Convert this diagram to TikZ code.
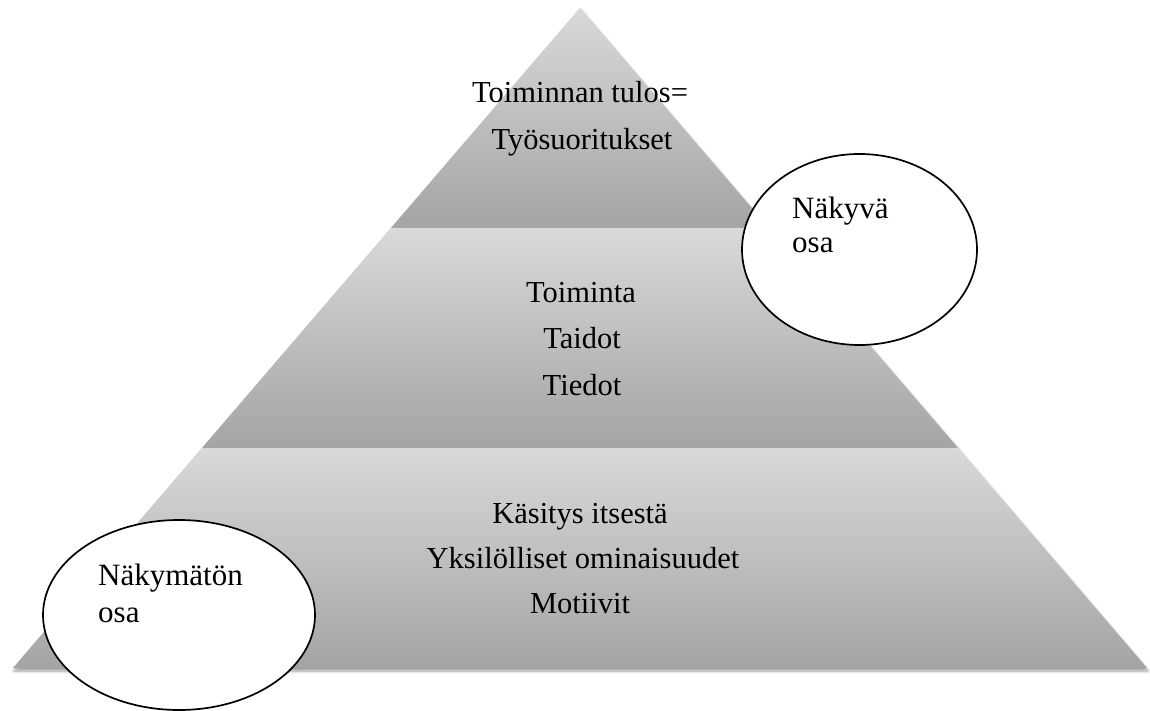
\documentclass[tikz,border=0pt]{standalone}
\usepackage{fontspec}
\setmainfont{Liberation Serif}
\usetikzlibrary{shapes.geometric,shadows.blur}
\definecolor{bandtop}{RGB}{217,217,217}
\definecolor{bandbot}{RGB}{164,164,164}
\tikzset{
  band/.style={top color=bandtop, bottom color=bandbot, draw=none},
  ptext/.style={anchor=base, inner sep=0pt, font=\fontsize{30.5}{36}\selectfont},
  etext/.style={anchor=base west, inner sep=0pt, font=\fontsize{31}{36}\selectfont},
  bubble/.style={ellipse, draw=black, line width=1.7pt, fill=white, inner sep=0pt}
}
\begin{document}
\begin{tikzpicture}[x=1pt,y=-1pt]
\useasboundingbox (0,0) rectangle (1150,711);
% shadow under pyramid
\fill[black!35, opacity=0.5, blur shadow={shadow xshift=1pt, shadow yshift=-3pt, shadow blur steps=6, shadow blur radius=3pt}]
  (580,8) -- (1147,668) -- (13,668) -- cycle;
% bands
\shade[band] (580,8) -- (391,228) -- (769,228) -- cycle;
\shade[band] (391,228) -- (202,448) -- (958,448) -- (769,228) -- cycle;
\shade[band] (202,448) -- (13,668) -- (1147,668) -- (958,448) -- cycle;
% pyramid texts
\node[ptext] (t1) at (580,103) {Toiminnan tulos=};
\node[ptext] (t2) at (582,150) {Työsuoritukset};
\node[ptext] (m1) at (581,302) {Toiminta};
\node[ptext] (m2) at (582,348) {Taidot};
\node[ptext] (m3) at (582,395) {Tiedot};
\node[ptext] (b1) at (580,523) {Käsitys itsestä};
\node[ptext] (b2) at (583,568) {Yksilölliset ominaisuudet};
\node[ptext] (b3) at (580,613) {Motiivit};
% bubbles
\node[bubble, minimum width=235pt, minimum height=191pt] (vis) at (859.5,249.5) {};
\node[etext] (vis1) at (792,219) {Näkyvä};
\node[etext] (vis2) at (792,253) {osa};
\node[bubble, minimum width=272pt, minimum height=190pt] (inv) at (179,615) {};
\node[etext] (inv1) at (98,585) {Näkymätön};
\node[etext] (inv2) at (98,622) {osa};
\end{tikzpicture}
\end{document}
